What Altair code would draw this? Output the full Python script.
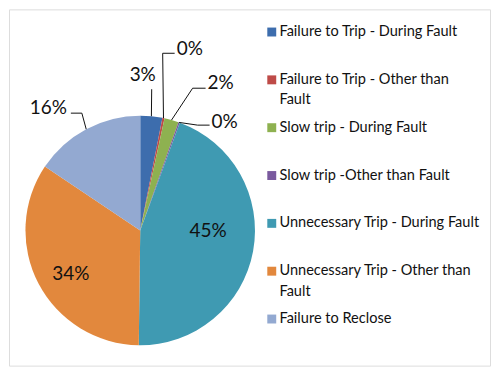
import math
import altair as alt
import pandas as pd

# ---------------- data ----------------
categories = [
    "Failure to Trip - During Fault",
    "Failure to Trip - Other than Fault",
    "Slow trip - During Fault",
    "Slow trip -Other than Fault",
    "Unnecessary Trip - During Fault",
    "Unnecessary Trip - Other than Fault",
    "Failure to Reclose",
]
legend_text = [
    "Failure to Trip - During Fault",
    "Failure to Trip - Other than\nFault",
    "Slow trip - During Fault",
    "Slow trip -Other than Fault",
    "Unnecessary Trip - During Fault",
    "Unnecessary Trip - Other than\nFault",
    "Failure to Reclose",
]
values = [3.1, 0.3, 2.0, 0.2, 44.6, 34.2, 15.6]
colors = ["#3D6DAD", "#BE4B48", "#8EB150", "#7A5A9E", "#3F9AB2", "#E2883D", "#93A9D1"]

# ---------------- layout ----------------
W, H = 482, 357
CX, CY, R = 131.5, 221.5, 115
FONT = "Lato"

# label anchor offsets from pie centre, alignment, leader bend points (offsets)
label_layout = {
    0: dict(dx=2.5, dy=-155.5, align="center", leader=[(11.5, -141.5)]),
    1: dict(dx=36.5, dy=-181.5, align="left", leader=[(22.5, -177.5), (34.5, -177.5)]),
    2: dict(dx=67.5, dy=-147.5, align="left", leader=[(52.5, -142.5), (65.5, -142.5)]),
    3: dict(dx=71.5, dy=-109.0, align="left", leader=[(57.5, -105.5), (69.5, -105.5)]),
    4: dict(dx=68.0, dy=1.0, align="center", leader=[]),
    5: dict(dx=-69.5, dy=44.0, align="center", leader=[]),
    6: dict(dx=-73.5, dy=-123.0, align="right", leader=[(-58.5, -117.5), (-69.5, -117.5)]),
}

df = pd.DataFrame({"cat": categories, "value": values, "idx": range(len(values)),
                   "legend": legend_text})

total = sum(values)
lab_rows, lead_rows = [], []
cum = 0.0
for i, v in enumerate(values):
    mid = (cum + v / 2) / total * 2 * math.pi
    cum += v
    lay = label_layout[i]
    lab_rows.append(dict(cat=categories[i], label=f"{round(v)}%", align=lay["align"],
                         x=CX + lay["dx"], y=CY + lay["dy"]))
    if lay["leader"]:
        pts = [(R * math.sin(mid), -R * math.cos(mid))] + lay["leader"]
        for k, (px, py) in enumerate(pts):
            lead_rows.append(dict(lid=i, k=k, x=CX + px, y=CY + py))
labels = pd.DataFrame(lab_rows)
leaders = pd.DataFrame(lead_rows)

color_scale = alt.Scale(domain=categories, range=colors)
xs = alt.Scale(domain=[0, W], range=[0, W])
ys = alt.Scale(domain=[0, H], range=[0, H])

pie = alt.Chart(df).mark_arc(radius=R).encode(
    theta=alt.Theta("value:Q", stack=True),
    color=alt.Color("cat:N", scale=color_scale, legend=None),
    order=alt.Order("idx:Q"),
    x=alt.value(CX),
    y=alt.value(CY),
)

lead = alt.Chart(leaders).mark_line(color="#111111", strokeWidth=1).encode(
    x=alt.X("x:Q", scale=xs, axis=None),
    y=alt.Y("y:Q", scale=ys, axis=None),
    detail="lid:N",
    order="k:Q",
)

def lab_layer(al):
    return alt.Chart(labels).transform_filter(alt.datum.align == al).mark_text(
        font=FONT, fontSize=19, color="#111111", align=al, baseline="middle"
    ).encode(
        x=alt.X("x:Q", scale=xs, axis=None),
        y=alt.Y("y:Q", scale=ys, axis=None),
        text="label:N",
    )

leg_y = alt.Y("cat:N", sort=categories, axis=None,
              scale=alt.Scale(type="point", range=[22.7, 310.3], padding=0))

leg_sq = alt.Chart(df).mark_square(size=80, opacity=1).encode(
    x=alt.value(263.3),
    y=leg_y,
    color=alt.Color("cat:N", scale=color_scale, legend=None),
)
leg_tx = alt.Chart(df).mark_text(
    font=FONT, fontSize=14.6, color="#111111", align="left", baseline="middle",
    lineBreak="\n", lineHeight=20.5,
).encode(
    x=alt.value(271),
    y=leg_y,
    text="legend:N",
)

chart = alt.layer(
    pie, lead, lab_layer("center"), lab_layer("left"), lab_layer("right"),
    alt.layer(leg_sq, leg_tx),
).resolve_scale(y="independent").properties(
    width=W, height=H, padding=1,
    autosize=alt.AutoSizeParams(type="none"),
).configure_view(stroke="#a0a0a0", strokeWidth=1.5).configure(background="white")

chart.save("out.html", embed_options={"renderer": "svg", "actions": False})
